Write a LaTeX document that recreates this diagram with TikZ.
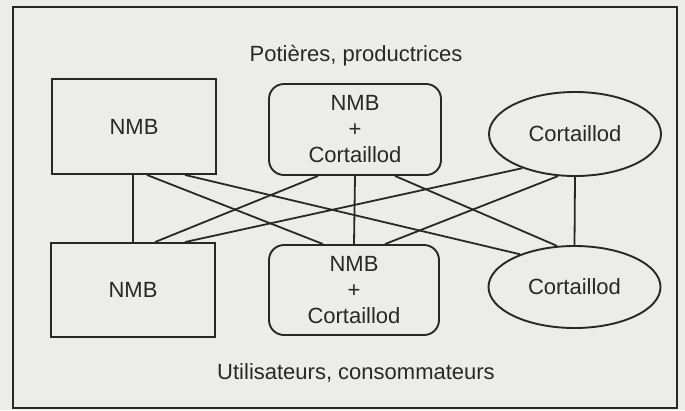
\documentclass[tikz,border=0pt]{standalone}
\usepackage{fontspec}
\setmainfont{Liberation Sans}
\usetikzlibrary{shapes.geometric}

\definecolor{paper}{RGB}{236,236,234}
\definecolor{ink}{RGB}{40,40,40}

\begin{document}
\begin{tikzpicture}[
 x=1pt, y=-1pt,
 every node/.style={text=ink, font=\fontsize{22}{26}\selectfont, inner sep=0pt, align=center},
 rectbox/.style={draw=ink, line width=1.9pt, rectangle, minimum width=164pt, minimum height=95pt},
 roundbox/.style={draw=ink, line width=1.9pt, rectangle, rounded corners=15pt, minimum width=172pt, minimum height=91pt},
 ovalbox/.style={draw=ink, line width=1.9pt, ellipse, minimum width=172pt, minimum height=84pt},
 link/.style={draw=ink, line width=1.8pt}
]

% fond et cadre
\fill[paper] (0,0) rectangle (685,410);
\draw[ink, line width=2pt] (13,7) rectangle (677,408);

% titres
\node (prod) at (356,56) {Potières, productrices};
\node (cons) at (356,373) {Utilisateurs, consommateurs};

% potières
\node[rectbox] (t1) at (134,126.5) {NMB};
\node[roundbox] (t2) at (355,129.5) {NMB\\+\\Cortaillod};
\node[ovalbox] (t3) at (575,134) {Cortaillod};

% utilisateurs
\node[rectbox, minimum height=94pt] (b1) at (133,290) {NMB};
\node[roundbox, minimum width=170pt, minimum height=90pt] (b2) at (354,290) {NMB\\+\\Cortaillod};
\node[ovalbox, minimum height=82pt] (b3) at (574.5,287) {Cortaillod};

% liens
\draw[link] ([xshift=-1pt]t1.south) -- (b1.north);
\draw[link] ([xshift=13pt]t1.south) -- ([xshift=-31pt]b2.north);
\draw[link] ([xshift=51pt]t1.south) -- (b3.149);
\draw[link] ([xshift=-37pt]t2.south) -- ([xshift=22pt]b1.north);
\draw[link] (t2.south) -- (b2.north);
\draw[link] ([xshift=40pt]t2.south) -- (b3.113);
\draw[link] (t3.213) -- ([xshift=52pt]b1.north);
\draw[link] (t3.248) -- ([xshift=31pt]b2.north);
\draw[link] (t3.south) -- (b3.north);

\end{tikzpicture}
\end{document}
